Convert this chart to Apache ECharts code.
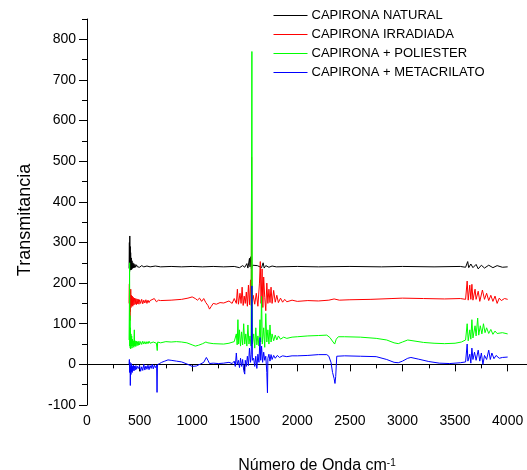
<!DOCTYPE html>
<html>
<head>
<meta charset="utf-8">
<script src="https://cdn.jsdelivr.net/npm/echarts@6/dist/echarts.min.js"></script>
<style>
html,body{margin:0;padding:0;background:#fff;}
#chart{width:527px;height:470px;}
</style>
</head>
<body>
<div id="chart"></div>
<script>
const seriesNames = ['CAPIRONA NATURAL', 'CAPIRONA IRRADIADA', 'CAPIRONA + POLIESTER', 'CAPIRONA + METACRILATO'];
const xTicks = [0, 500, 1000, 1500, 2000, 2500, 3000, 3500, 4000];
const xMinorTicks = [250, 750, 1250, 1750, 2250, 2750, 3250, 3750];
const yTicks = [-100, 0, 100, 200, 300, 400, 500, 600, 700, 800];
const yMinorTicks = [-50, 50, 150, 250, 350, 450, 550, 650, 750, 850];

const naturalX = [400,403,405,407,409,411,413,415,418,421,424,428,432,436,440,445,450,456,462,470,480,490,500,520,540,570,600,650,700,800,900,1000,1100,1200,1300,1400,1450,1480,1500,1520,1530,1545,1550,1558,1563,1575,1590,1620,1660,1675,1685,1700,1730,1760,1800,2000,2200,2500,2800,3000,3300,3550,3600,3620,3630,3650,3670,3700,3720,3750,3780,3820,3860,3900,3950,4000];
const naturalY = [236,300,228,316,245,290,232,275,238,262,233,255,236,250,237,248,238,246,239,245,240,244,239,243,240,242,240,242,240,241,240,241,240,241,240,241,238,243,239,248,237,261,240,265,236,244,240,243,238,250,237,243,239,242,240,241,240,241,240,241,240,241,239,253,238,247,238,246,235,244,237,244,238,243,239,240];

const irradiadaX = [400,403,405,407,409,411,413,416,419,422,425,430,435,440,446,452,458,464,470,476,482,488,494,500,510,520,530,540,550,560,570,580,590,600,640,660,680,700,800,900,960,1000,1030,1050,1070,1090,1110,1130,1150,1165,1180,1200,1230,1265,1300,1350,1380,1400,1420,1430,1440,1455,1465,1475,1485,1495,1505,1515,1525,1535,1545,1555,1562,1565,1568,1580,1595,1610,1625,1640,1648,1655,1665,1672,1680,1690,1700,1710,1720,1730,1740,1750,1760,1775,1790,1805,1820,1840,1860,1880,1900,1950,2000,2100,2200,2300,2350,2400,2500,2700,2900,3000,3200,3400,3550,3600,3615,3625,3640,3650,3660,3670,3690,3700,3720,3735,3760,3780,3800,3820,3840,3860,3880,3900,3920,3940,3970,4000];
const irradiadaY = [150,198,120,180,108,170,130,185,140,170,145,168,143,165,146,163,148,162,147,161,149,160,148,159,150,160,149,158,151,159,150,158,152,157,162,154,158,157,158,160,163,166,162,158,163,155,162,152,145,136,142,150,148,152,151,156,150,162,150,185,148,175,150,190,145,168,150,178,143,195,147,208,145,510,150,170,148,175,143,200,253,150,235,140,215,165,132,200,150,185,152,190,150,182,153,170,152,163,153,160,154,158,155,157,156,158,161,158,159,160,162,163,162,161,162,160,205,158,195,160,197,158,185,160,180,155,183,160,175,157,170,155,168,150,163,157,162,160];

const poliesterX = [400,403,405,407,409,411,413,415,418,421,425,428,432,436,440,445,450,453,458,464,470,476,482,488,494,500,510,520,530,540,550,560,570,580,590,600,630,660,668,672,700,750,800,850,900,950,1000,1030,1060,1100,1130,1150,1200,1300,1350,1400,1410,1420,1428,1435,1442,1450,1460,1470,1480,1490,1500,1510,1520,1530,1540,1550,1560,1568,1573,1585,1595,1605,1615,1625,1635,1645,1652,1660,1667,1680,1690,1700,1710,1720,1730,1740,1750,1760,1775,1790,1805,1820,1840,1870,1900,1950,2000,2100,2200,2280,2310,2340,2355,2370,2390,2450,2600,2750,2850,2920,2960,3000,3050,3100,3200,3300,3400,3500,3560,3600,3615,3625,3640,3650,3660,3670,3690,3700,3715,3725,3740,3755,3770,3785,3800,3820,3840,3860,3880,3900,3950,4000];
const poliesterY = [60,150,250,45,120,40,90,38,75,45,70,40,62,45,58,42,85,45,58,44,57,46,56,47,57,48,56,49,57,50,56,50,56,51,57,52,55,52,34,55,53,56,55,56,55,53,48,45,47,51,55,53,51,50,52,56,55,75,48,110,50,85,45,80,48,100,50,75,45,97,50,70,45,770,50,75,40,90,48,70,45,110,55,167,50,90,42,125,55,85,50,97,55,75,58,72,60,70,62,67,64,67,68,70,71,72,66,55,50,62,68,68,67,64,60,53,51,55,60,58,54,52,51,52,55,60,100,58,85,62,110,65,95,70,114,72,95,75,100,78,90,76,86,74,82,76,78,75];

const metacrilatoX = [400,403,406,409,412,415,418,421,424,427,430,434,438,442,447,452,458,465,472,480,490,500,510,520,530,540,550,560,570,580,590,600,610,620,630,640,650,662,666,670,690,710,740,770,800,850,900,950,1000,1040,1080,1110,1135,1150,1165,1180,1200,1250,1300,1350,1380,1400,1410,1420,1428,1440,1450,1460,1470,1480,1490,1500,1505,1515,1525,1535,1545,1555,1562,1568,1573,1585,1595,1605,1615,1625,1635,1645,1652,1660,1670,1680,1690,1700,1710,1716,1720,1730,1740,1750,1760,1775,1790,1810,1830,1860,1900,1950,2000,2100,2200,2280,2300,2320,2335,2350,2358,2365,2375,2390,2450,2600,2750,2850,2920,2960,3000,3050,3080,3150,3250,3350,3450,3550,3600,3615,3622,3640,3650,3660,3670,3685,3700,3720,3735,3750,3765,3780,3800,3820,3835,3850,3870,3890,3920,3950,4000];
const metacrilatoY = [0,12,-20,5,-52,-5,-25,2,-18,-3,-20,-5,-15,-2,-16,-4,-14,-3,-12,-5,-10,-3,-17,-6,-15,0,-14,-4,-12,-2,-13,-3,-10,0,-11,-2,-8,-2,-69,-1,2,5,8,11,10,8,6,1,-5,-4,1,5,17,10,2,0,3,2,3,5,2,8,-5,28,0,10,-8,15,-5,12,-15,-24,10,-5,20,-3,40,5,25,193,10,15,-5,20,-10,25,5,66,10,45,5,30,10,20,-20,-70,15,25,8,24,12,22,15,22,17,21,19,21,21,22,24,24,20,5,-20,-35,-47,-30,20,22,21,20,19,12,5,4,8,15,17,13,7,3,2,4,6,50,8,25,3,40,12,30,10,35,8,28,0,22,12,35,12,28,14,22,15,17,18];

const colors = ['#000000', '#ff0000', '#00ff00', '#0000ff'];
const xs = [naturalX, irradiadaX, poliesterX, metacrilatoX];
const ys = [naturalY, irradiadaY, poliesterY, metacrilatoY];

const FONT = 'Liberation Sans, Arial, sans-serif';

const series = seriesNames.map((name, i) => ({
  name: name,
  type: 'line',
  xAxisIndex: 0,
  yAxisIndex: 0,
  symbol: 'none',
  sampling: null,
  data: xs[i].map((x, k) => [x, ys[i][k]]),
  lineStyle: { color: colors[i], width: 1 },
  itemStyle: { color: colors[i] },
  z: 2 + i
}));

const plain = v => String(v);

const chart = echarts.init(document.getElementById('chart'), null, { renderer: 'canvas' });
chart.setOption({
  animation: false,
  backgroundColor: '#ffffff',
  textStyle: { fontFamily: FONT },
  grid: { left: 87, right: 0, top: 19, bottom: 65, containLabel: false, outerBoundsMode: 'none' },
  legend: {
    orient: 'vertical',
    left: 273,
    top: 9,
    padding: 0,
    itemWidth: 34,
    itemHeight: 14,
    itemGap: 6,
    itemStyle: { color: 'rgba(0,0,0,0)', opacity: 0, borderWidth: 0 },
    lineStyle: { width: 1 },
    textStyle: { fontSize: 13, color: '#000', fontFamily: FONT, padding: [0, 0, 0, -1] },
    data: seriesNames
  },
  xAxis: [{
    type: 'value',
    position: 'bottom',
    min: 0,
    max: 4184,
    interval: 500,
    splitLine: { show: false },
    axisLine: { lineStyle: { color: '#000', width: 1 } },
    axisTick: { length: 7, lineStyle: { color: '#000' }, customValues: xTicks },
    axisLabel: { color: '#000', fontSize: 14, margin: 9, fontFamily: FONT, customValues: xTicks, formatter: plain },
    name: 'Número de Onda cm{sup|-1}',
    nameLocation: 'middle',
    nameGap: 53,
    nameTextStyle: {
      fontSize: 16, color: '#000', fontFamily: FONT, padding: [0, 0, 0, 20],
      rich: { sup: { fontSize: 10, verticalAlign: 'top', padding: [0, 0, 6, 0], color: '#000', fontFamily: FONT } }
    }
  }, {
    type: 'value',
    position: 'bottom',
    min: 0,
    max: 4184,
    interval: 250,
    splitLine: { show: false },
    axisLine: { show: false },
    axisTick: { length: 4, lineStyle: { color: '#000' }, customValues: xMinorTicks },
    axisLabel: { show: false }
  }],
  yAxis: [{
    type: 'value',
    position: 'left',
    min: -100,
    max: 850,
    interval: 50,
    splitLine: { show: false },
    axisLine: { show: true, lineStyle: { color: '#000', width: 1 } },
    axisTick: { length: 8, lineStyle: { color: '#000' }, customValues: yTicks },
    axisLabel: { color: '#000', fontSize: 14, margin: 11, fontFamily: FONT, customValues: yTicks, formatter: plain },
    name: 'Transmitancia',
    nameLocation: 'middle',
    nameGap: 53,
    nameTextStyle: { fontSize: 18, color: '#000', fontFamily: FONT, padding: [0, 16, 0, 0] }
  }, {
    type: 'value',
    position: 'left',
    min: -100,
    max: 850,
    interval: 50,
    splitLine: { show: false },
    axisLine: { show: false },
    axisTick: { length: 5, lineStyle: { color: '#000' }, customValues: yMinorTicks },
    axisLabel: { show: false }
  }],
  series: series
});
</script>
</body>
</html>
